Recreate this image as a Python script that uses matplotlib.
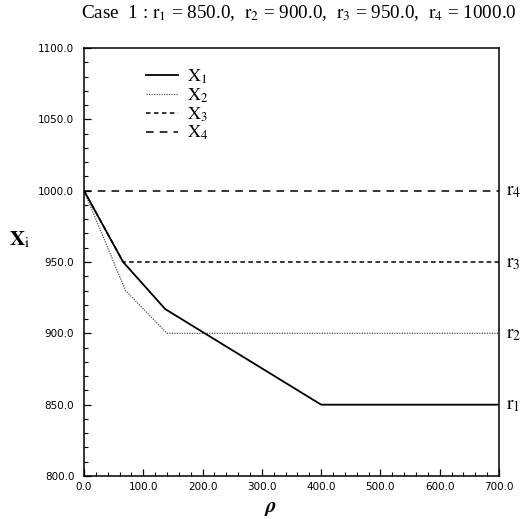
import matplotlib
matplotlib.use("Agg")
import matplotlib.pyplot as plt
from matplotlib.ticker import MultipleLocator, FormatStrFormatter

plt.rcParams['mathtext.fontset'] = 'stix'

# Data
rho_x1 = [0, 66, 137, 400, 700]
x1 = [1000, 950, 917, 850, 850]
rho_x2 = [0, 70, 140, 700]
x2 = [1000, 930, 900, 900]
rho_x3 = [0, 66, 700]
x3 = [1000, 950, 950]
rho_x4 = [0, 700]
x4 = [1000, 1000]
r_values = [850.0, 900.0, 950.0, 1000.0]
r_labels = [r'$\mathrm{r}_1$', r'$\mathrm{r}_2$', r'$\mathrm{r}_3$', r'$\mathrm{r}_4$']
series_labels = [r'$\mathrm{X}_1$', r'$\mathrm{X}_2$', r'$\mathrm{X}_3$', r'$\mathrm{X}_4$']

fig = plt.figure(figsize=(5.28, 5.19), dpi=100)
ax = fig.add_axes([84/528, 43/519, 415/528, 428/519])

l3, = ax.plot(rho_x3, x3, color='black', lw=1.1, ls=(0, (3, 2.2)), zorder=2)
l4, = ax.plot(rho_x4, x4, color='black', lw=1.1, ls=(0, (5, 4)), zorder=2)
l2, = ax.plot(rho_x2, x2, color='#555555', lw=0.9, ls=(0, (1, 1)), zorder=3)
l1, = ax.plot(rho_x1, x1, color='black', lw=1.3, ls='-', zorder=4)

ax.set_xlim(0, 700)
ax.set_ylim(800, 1100)
ax.xaxis.set_major_locator(MultipleLocator(100))
ax.xaxis.set_minor_locator(MultipleLocator(20))
ax.yaxis.set_major_locator(MultipleLocator(50))
ax.yaxis.set_minor_locator(MultipleLocator(10))
ax.xaxis.set_major_formatter(FormatStrFormatter('%.1f'))
ax.yaxis.set_major_formatter(FormatStrFormatter('%.1f'))
ax.tick_params(which='both', direction='in', top=False, right=False)
ax.tick_params(which='major', length=5, width=0.9, labelsize=7.5)
ax.tick_params(which='minor', length=3, width=0.8)
ax.tick_params(axis='y', pad=7)
ax.tick_params(axis='x', pad=4)
for s in ax.spines.values():
    s.set_linewidth(1.1)

leg = ax.legend([l1, l2, l3, l4], series_labels, loc='upper left',
                bbox_to_anchor=(0.11, 0.993), frameon=False,
                prop={'size': 13},
                handlelength=1.8, labelspacing=0.03, handletextpad=0.5)

for v, lab in zip(r_values, r_labels):
    ax.text(1.018, v, lab, transform=ax.get_yaxis_transform(),
            fontsize=14, va='center', ha='left')

fig.text(0.566, 0.974, r'Case  1 : $\mathrm{r}_1$ = 850.0,  $\mathrm{r}_2$ = 900.0,  $\mathrm{r}_3$ = 950.0,  $\mathrm{r}_4$ = 1000.0',
         fontsize=13.8, ha='center', va='center', family='Liberation Serif')
fig.text(20/528, 1 - 240/519, r'$\mathbf{X}_\mathrm{i}$', fontsize=15, ha='center', va='center')
fig.text(271/528, 1 - 508/519, r'$\boldsymbol{\rho}$', fontsize=15, ha='center', va='center')

fig.savefig('out.png', dpi=100)
